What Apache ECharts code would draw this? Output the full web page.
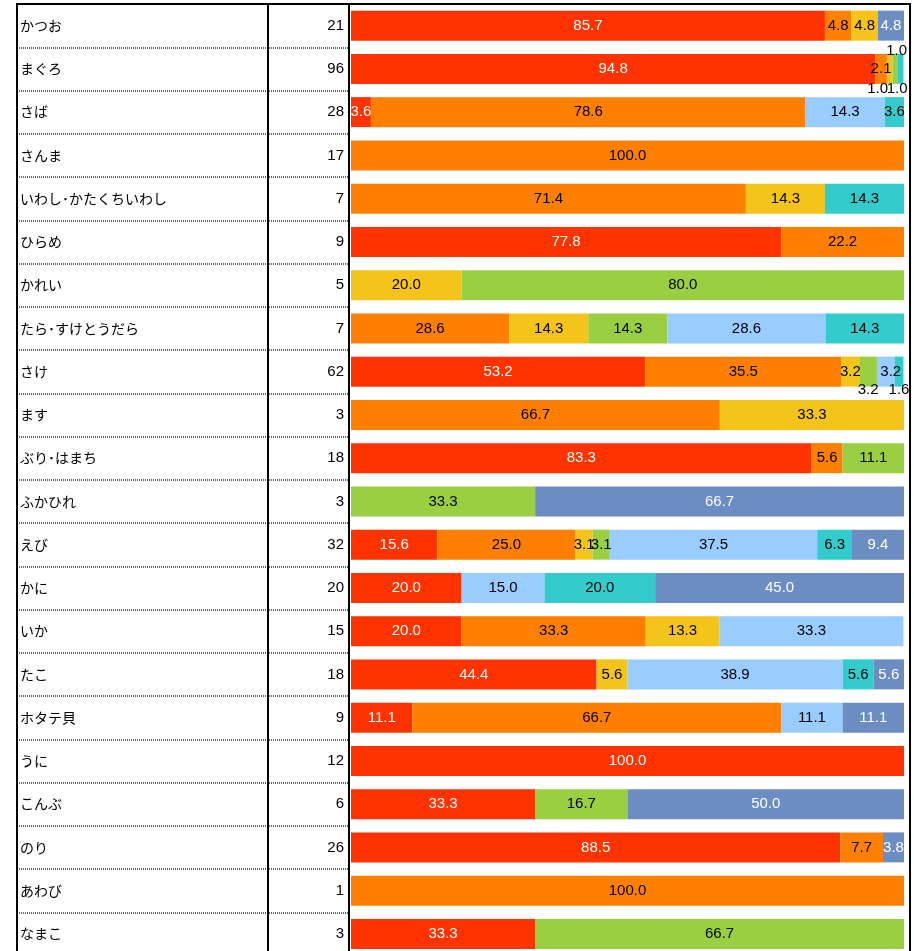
<!DOCTYPE html>
<html>
<head>
<meta charset="utf-8">
<script src="https://cdn.jsdelivr.net/npm/echarts@6/dist/echarts.min.js"></script>
<style>
  html, body { margin: 0; padding: 0; overflow: hidden; background: #fff; }
  #chart { width: 914px; height: 960px; }
</style>
</head>
<body>
<div id="chart"></div>
<script>
// 品目ごとの回答数と構成比（%）
const categories = [
  'かつお', 'まぐろ', 'さば', 'さんま', 'いわし･かたくちいわし', 'ひらめ', 'かれい',
  'たら･すけとうだら', 'さけ', 'ます', 'ぶり･はまち', 'ふかひれ', 'えび', 'かに',
  'いか', 'たこ', 'ホタテ貝', 'うに', 'こんぶ', 'のり', 'あわび', 'なまこ'
];
const counts = [21, 96, 28, 17, 7, 9, 5, 7, 62, 3, 18, 3, 32, 20, 15, 18, 9, 12, 6, 26, 1, 3];

const seriesRed    = [85.7, 94.8, 3.6, null, null, 77.8, null, null, 53.2, null, 83.3, null, 15.6, 20.0, 20.0, 44.4, 11.1, 100.0, 33.3, 88.5, null, 33.3];
const seriesOrange = [4.8, 2.1, 78.6, 100.0, 71.4, 22.2, null, 28.6, 35.5, 66.7, 5.6, null, 25.0, null, 33.3, null, 66.7, null, null, 7.7, 100.0, null];
const seriesYellow = [4.8, 1.0, null, null, 14.3, null, 20.0, 14.3, 3.2, 33.3, null, null, 3.1, null, 13.3, 5.6, null, null, null, null, null, null];
const seriesGreen  = [null, 1.0, null, null, null, null, 80.0, 14.3, 3.2, null, 11.1, 33.3, 3.1, null, null, null, null, null, 16.7, null, null, 66.7];
const seriesSky    = [null, null, 14.3, null, null, null, null, 28.6, 3.2, null, null, null, 37.5, 15.0, 33.3, 38.9, 11.1, null, null, null, null, null];
const seriesTeal   = [null, 1.0, 3.6, null, 14.3, null, null, 14.3, 1.6, null, null, null, 6.3, 20.0, null, 5.6, null, null, null, null, null, null];
const seriesSteel  = [4.8, null, null, null, null, null, null, null, null, null, null, 66.7, 9.4, 45.0, null, 5.6, 11.1, null, 50.0, 3.8, null, null];

const stackValues = [seriesRed, seriesOrange, seriesYellow, seriesGreen, seriesSky, seriesTeal, seriesSteel];
const colors      = ['#FF3300', '#FF8000', '#F5C41A', '#9BCF42', '#99CCFF', '#33CCCC', '#6B8DC1'];
const labelColors = ['#fff', '#000', '#000', '#000', '#000', '#000', '#fff'];

// 細い区間のラベルは棒の上下に逃がす（品目名 → 系列番号 → ラベル設定）
const labelTweaks = {
  'まぐろ': {
    2: { position: 'bottom', distance: -3, offset: [-12, 0] },
    3: { position: 'top', distance: -4, offset: [1.5, 0] },
    5: { position: 'bottom', distance: -3, offset: [-3.5, 0] }
  },
  'さけ': {
    3: { position: 'bottom', distance: -4 },
    4: { offset: [5, 0] },
    5: { position: 'bottom', distance: -4 }
  }
};

const TOP = 4, ROW = 43.25;
const gridHeight = ROW * categories.length;
const BAR_LEFT = 351, BAR_RIGHT = 904;
const TABLE_LEFT = 17, TABLE_RIGHT = 349, COL_SPLIT = 268;

const labelFont = { fontFamily: '"Liberation Sans", Arial, sans-serif', fontSize: 15 };

const series = stackValues.map((vals, si) => ({
  type: 'bar',
  stack: 'share',
  xAxisIndex: 0,
  yAxisIndex: 0,
  barWidth: 30,
  itemStyle: { color: colors[si] },
  label: {
    show: true,
    position: 'inside',
    color: labelColors[si],
    ...labelFont,
    formatter: p => (p.value == null ? '' : Number(p.value).toFixed(1))
  },
  data: vals.map((v, ci) => {
    const tw = labelTweaks[categories[ci]] && labelTweaks[categories[ci]][si];
    if (v == null) return null;
    if (!tw) return v;
    return { value: v, label: Object.assign({ color: '#000' }, tw) };
  })
}));

const chart = echarts.init(document.getElementById('chart'), null, { renderer: 'canvas' });

const H = 960;
const borderLine = (x1, y1, x2, y2) => ({
  type: 'line',
  shape: { x1, y1, x2, y2 },
  style: { stroke: '#000', lineWidth: 2 },
  z: 100
});

chart.setOption({
  animation: false,
  backgroundColor: '#fff',
  grid: [
    { left: BAR_LEFT, width: BAR_RIGHT - BAR_LEFT, top: TOP, height: gridHeight, containLabel: false },
    { left: TABLE_LEFT, width: TABLE_RIGHT - TABLE_LEFT, top: TOP, height: gridHeight, containLabel: false }
  ],
  xAxis: [
    { gridIndex: 0, type: 'value', min: 0, max: 100, show: false },
    { gridIndex: 1, type: 'value', min: 0, max: 1, show: false }
  ],
  yAxis: [
    {
      gridIndex: 0,
      type: 'category',
      inverse: true,
      data: categories,
      axisLine: { show: false },
      axisTick: { show: false },
      splitLine: { show: false },
      axisLabel: {
        margin: 7,
        color: '#000',
        fontFamily: '"Liberation Sans", Arial, sans-serif',
        fontSize: 15,
        padding: [4, 0, 0, 0],
        formatter: (val, idx) => String(counts[idx])
      }
    },
    {
      gridIndex: 1,
      type: 'category',
      inverse: true,
      data: categories,
      axisLine: { show: false },
      axisTick: { show: false },
      splitLine: { show: true, lineStyle: { color: '#666', type: [1, 1], width: 2 } },
      axisLabel: {
        inside: true,
        margin: 3,
        color: '#000',
        fontFamily: '"Noto Sans CJK JP", sans-serif',
        fontSize: 14
      }
    }
  ],
  series,
  graphic: [
    borderLine(TABLE_LEFT - 1, TOP, 911, TOP),
    borderLine(TABLE_LEFT, TOP, TABLE_LEFT, H),
    borderLine(COL_SPLIT, TOP, COL_SPLIT, H),
    borderLine(TABLE_RIGHT, TOP, TABLE_RIGHT, H),
    borderLine(910, TOP, 910, H)
  ]
});
</script>
</body>
</html>
